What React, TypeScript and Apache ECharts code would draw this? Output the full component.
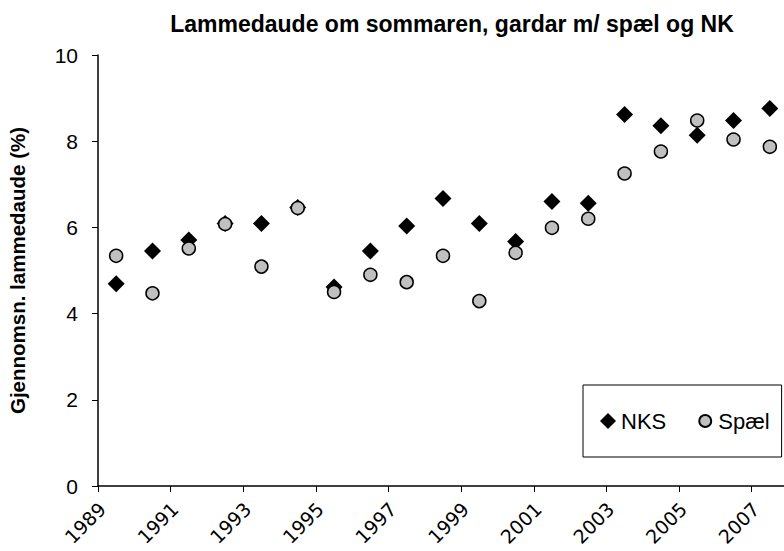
import React, { useEffect, useRef } from "react";
import * as echarts from "echarts";

const years = [1989, 1990, 1991, 1992, 1993, 1994, 1995, 1996, 1997, 1998, 1999, 2000, 2001, 2002, 2003, 2004, 2005, 2006, 2007];
const nksValues = [4.69, 5.45, 5.71, 6.09, 6.09, 6.46, 4.62, 5.45, 6.03, 6.67, 6.09, 5.67, 6.6, 6.56, 8.62, 8.36, 8.14, 8.48, 8.76];
const spaelValues = [5.34, 4.47, 5.51, 6.08, 5.09, 6.45, 4.5, 4.9, 4.73, 5.34, 4.29, 5.41, 5.99, 6.2, 7.25, 7.76, 8.48, 8.04, 7.87];
const baseYear = 1989;
const titleText = "Lammedaude om sommaren, gardar m/ spæl og NK";
const yAxisName = "Gjennomsn. lammedaude (%)";

const smallCircleIcon = "path://M0 0 M16 16 M8 2 A6 6 0 1 1 8 14 A6 6 0 1 1 8 2 Z";

export default function App() {
  const ref = useRef<HTMLDivElement>(null);
  useEffect(() => {
    if (!ref.current) return;
    const chart = echarts.init(ref.current, undefined, { renderer: "svg" });
    const font = "Liberation Sans, Arial, sans-serif";
    chart.setOption({
      animation: false,
      backgroundColor: "#ffffff",
      textStyle: { fontFamily: font },
      title: {
        text: titleText,
        left: 447,
        textAlign: "center",
        top: 7,
        textStyle: { fontSize: 23, fontWeight: "bold", color: "#000", fontFamily: font },
      },
      grid: {
        left: 98,
        top: 55,
        width: 690,
        height: 431,
        containLabel: false,
        outerBoundsMode: "none",
      },
      legend: {
        left: 583,
        top: 385,
        width: 400,
        orient: "horizontal",
        data: [
          { name: "NKS", icon: "diamond" },
          { name: "Spæl", icon: smallCircleIcon },
        ],
        borderColor: "#000",
        borderWidth: 1,
        borderRadius: 0,
        padding: [25, 12, 25, 17],
        itemWidth: 16,
        itemHeight: 16,
        itemGap: 30,
        textStyle: { fontSize: 22, color: "#000", fontFamily: font },
      },
      xAxis: {
        type: "value",
        min: 0,
        max: 19,
        interval: 2,
        splitLine: { show: false },
        axisLine: { lineStyle: { color: "#000", width: 1.5 } },
        axisTick: { show: true, length: 6, lineStyle: { color: "#000", width: 1 } },
        axisLabel: {
          rotate: 45,
          fontSize: 19,
          fontFamily: "DejaVu Sans",
          color: "#000",
          margin: 24,
          padding: [0, -6, 0, 0],
          showMaxLabel: false,
          formatter: (v: number) => (v >= 19 ? "" : String(baseYear + v)),
        },
      },
      yAxis: {
        type: "value",
        min: 0,
        max: 10,
        interval: 2,
        name: yAxisName,
        nameLocation: "middle",
        nameRotate: 90,
        nameGap: 70,
        nameTextStyle: { fontSize: 20.5, fontWeight: "bold", color: "#000" },
        splitLine: { show: false },
        axisLine: { show: true, lineStyle: { color: "#000", width: 1.5 } },
        axisTick: { show: true, length: 6, lineStyle: { color: "#000", width: 1 } },
        axisLabel: { fontSize: 21, color: "#000", margin: 20 },
      },
      series: [
        {
          name: "NKS",
          type: "scatter",
          symbol: "diamond",
          symbolSize: 17,
          itemStyle: { color: "#000", opacity: 1 },
          data: years.map((y, i) => [y - baseYear + 0.5, nksValues[i]]),
        },
        {
          name: "Spæl",
          type: "scatter",
          symbol: "circle",
          symbolSize: 13,
          itemStyle: { color: "#c0c0c0", borderColor: "#000", borderWidth: 1.5, opacity: 1 },
          data: years.map((y, i) => [y - baseYear + 0.5, spaelValues[i]]),
        },
      ],
    });
    return () => chart.dispose();
  }, []);
  return (
    <div
      ref={ref}
      style={{ position: "absolute", left: 0, top: 0, width: 784, height: 551 }}
    />
  );
}
